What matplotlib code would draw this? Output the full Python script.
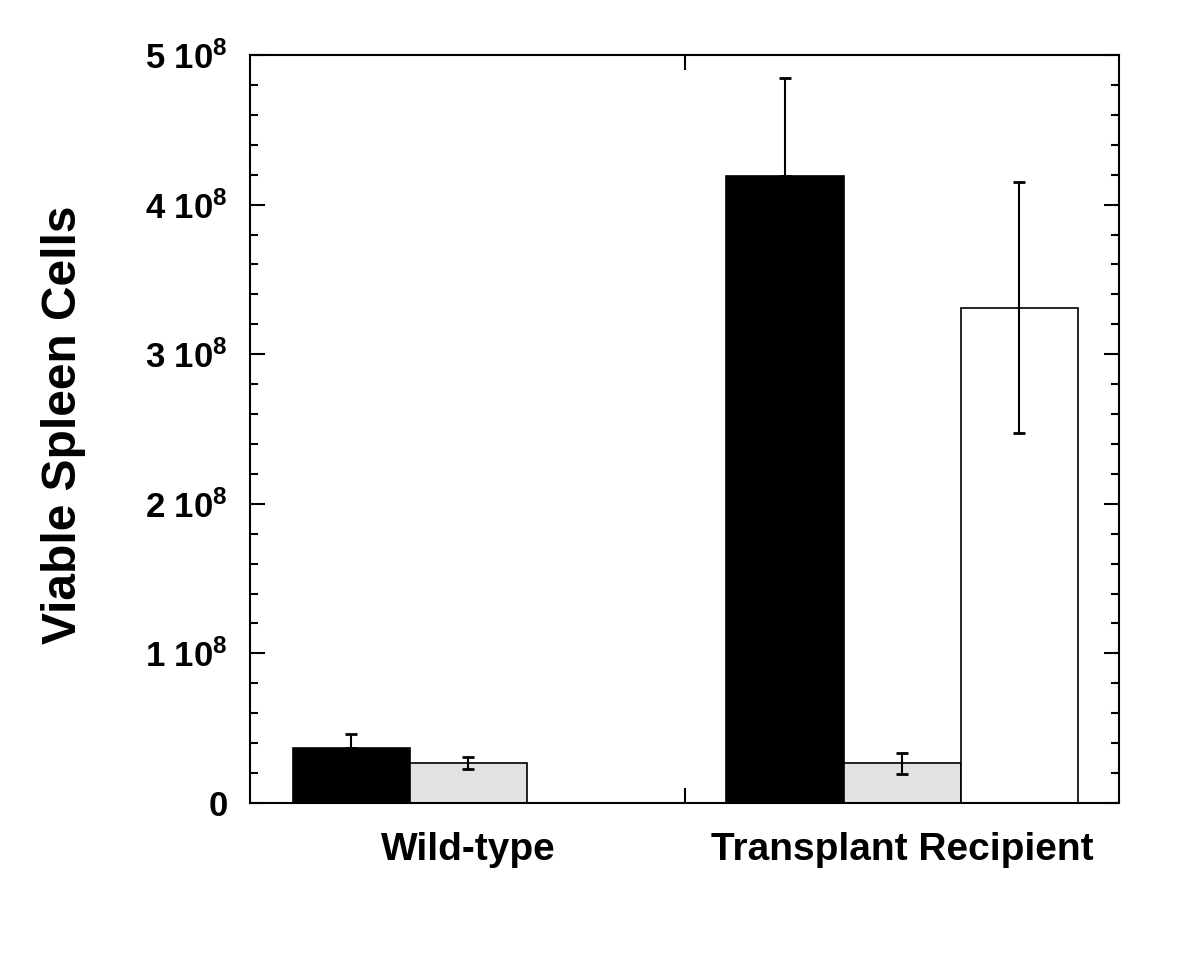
import matplotlib
matplotlib.use("Agg")
import matplotlib.pyplot as plt
from matplotlib.ticker import MultipleLocator, FuncFormatter
import numpy as np

plt.rcParams['font.family'] = ['Liberation Sans', 'DejaVu Sans']
plt.rcParams['mathtext.fontset'] = 'custom'
plt.rcParams['mathtext.rm'] = 'Liberation Sans'
plt.rcParams['mathtext.bf'] = 'Liberation Sans:bold'
plt.rcParams['mathtext.it'] = 'Liberation Sans'

categories = ["Wild-type", "Transplant Recipient"]
black_vals = [0.366e8, 4.19e8]
black_err = [0.092e8, 0.655e8]
gray_vals = [0.265e8, 0.265e8]
gray_err = [0.04e8, 0.07e8]
white_vals = [0.0, 3.31e8]
white_err = [0.0, 0.84e8]

fig = plt.figure(figsize=(12, 9.58), dpi=100)
ax = fig.add_axes([250/1200, 1-803/958, (1119-250)/1200, (803-55)/958])

x = np.arange(len(categories))
w = 0.27
ekw = dict(elinewidth=1.5, capthick=2, ecolor='black')
ax.bar(x - w, black_vals, w, color='black', edgecolor='black', linewidth=1.2, zorder=2)
ax.bar(x, gray_vals, w, color='#e2e2e2', edgecolor='black', linewidth=1.2, zorder=2)
ax.bar(x[1:] + w, white_vals[1:], w, color='white', edgecolor='black', linewidth=1.2, zorder=2)

ax.errorbar(x - w, black_vals, yerr=[[0, 0], black_err], fmt='none', capsize=4.5, zorder=3, **ekw)
ax.errorbar(x, gray_vals, yerr=gray_err, fmt='none', capsize=4.5, zorder=3, **ekw)
ax.errorbar(x[1:] + w, white_vals[1:], yerr=white_err[1:], fmt='none', capsize=4.5, zorder=3, **ekw)

ax.set_xlim(-0.503, 1.5)
ax.set_ylim(0, 5e8)

ax.yaxis.set_major_locator(MultipleLocator(1e8))
ax.yaxis.set_minor_locator(MultipleLocator(0.2e8))

def fmt(v, pos):
    n = int(round(v / 1e8))
    if n == 0:
        return '0'
    return r'%d 10$^{\mathbf{8}}$' % n

ax.yaxis.set_major_formatter(FuncFormatter(fmt))
ax.tick_params(axis='y', which='major', direction='in', length=11, width=1.5,
               left=True, right=True, labelsize=25, pad=16)
ax.tick_params(axis='y', which='minor', direction='in', length=6, width=1.5,
               left=True, right=True)
for lab in ax.get_yticklabels():
    lab.set_fontweight('bold')

ax.set_xticks([0.5])
ax.set_xticklabels([''])
ax.tick_params(axis='x', which='major', direction='in', length=11, width=1.5,
               top=True, bottom=True)

for s in ax.spines.values():
    s.set_linewidth(1.5)

for xi, c in zip(x, categories):
    ax.text(xi, -0.063, c, transform=ax.get_xaxis_transform(), ha='center', va='center',
            fontsize=28, fontweight='bold')

fig.text(64/1200, 1-425/958, 'Viable Spleen Cells', rotation=90, ha='center', va='center',
         fontsize=34.5, fontweight='bold')

fig.savefig('out.png', dpi=100)
